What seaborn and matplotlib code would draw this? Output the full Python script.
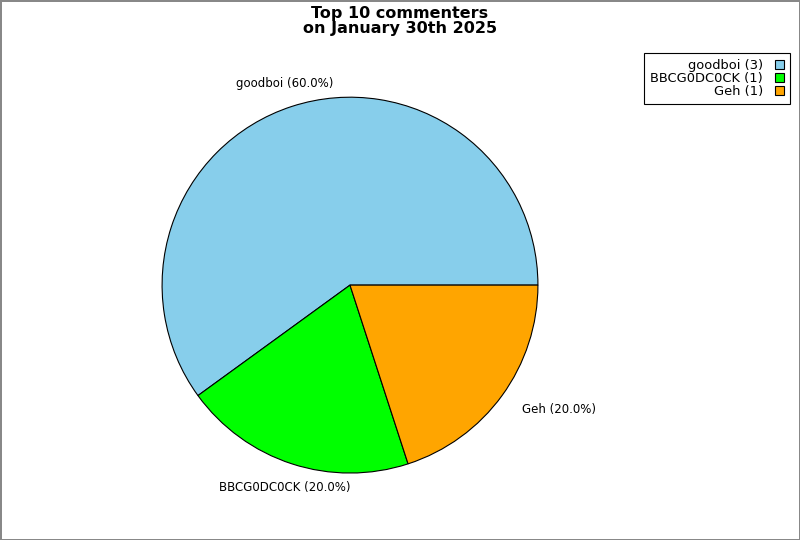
import numpy as np
import seaborn as sns
import matplotlib
matplotlib.use('Agg')
import matplotlib.pyplot as plt

names = ['goodboi', 'BBCG0DC0CK', 'Geh']
counts = [3, 1, 1]
colors = ['#87CEEB', '#00FF00', '#FFA500']

sns.set_style('white')
plt.rcParams['font.family'] = ['DejaVu Sans']
plt.rcParams['text.color'] = 'black'

fig = plt.figure(figsize=(8, 5.4), dpi=100)
fig.patch.set_edgecolor('#888888')
fig.patch.set_linewidth(2)

ax = fig.add_axes([0.2025, 0.124, 0.47, 0.696])

total = sum(counts)
labels = ['%s (%.1f%%)' % (n, 100 * c / total) for n, c in zip(names, counts)]

wedges, texts = ax.pie(counts, labels=labels, colors=colors, startangle=0,
                       counterclock=True, labeldistance=1.13,
                       wedgeprops={'edgecolor': 'black', 'linewidth': 0.8},
                       textprops={'fontsize': 8.5, 'color': 'black'})
for t in texts:
    x, y = t.get_position()
    if abs(x) < 0.5:
        t.set_horizontalalignment('center')
    t.set_verticalalignment('center')
ax.set_xlim(-1, 1)
ax.set_ylim(-1, 1)
ax.set_aspect('equal')

fig.suptitle('Top 10 commenters\non January 30th 2025', fontsize=11.5,
             fontweight='bold', y=0.988, va='top', linespacing=1.0,
             color='black')

leg_labels = ['%s (%d)' % (n, c) for n, c in zip(names, counts)]
leg = fig.legend(wedges, leg_labels, loc='upper right',
                 bbox_to_anchor=(0.9875, 0.902), markerfirst=False,
                 fancybox=False, edgecolor='black', framealpha=1,
                 fontsize=9.4, handlelength=0.72, handleheight=0.72,
                 handletextpad=0.9, labelspacing=0.02, borderpad=0.45,
                 borderaxespad=0)
leg.get_frame().set_linewidth(0.8)
for t in leg.get_texts():
    t.set_color('black')

plt.savefig('out.png', dpi=100, facecolor='white', edgecolor='#888888')
